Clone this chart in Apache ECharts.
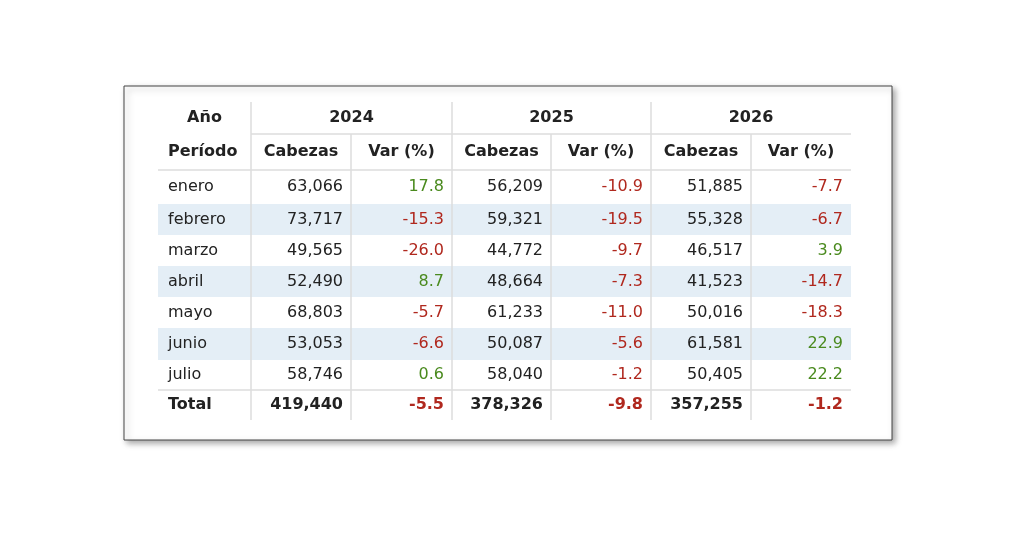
<!DOCTYPE html>
<html><head><meta charset="utf-8">
<script src="https://cdn.jsdelivr.net/npm/echarts@6/dist/echarts.min.js"></script>
<style>html,body{margin:0;background:#fff}#c{width:1024px;height:535px}</style>
</head><body><div id="c"></div>
<script>
var chart = echarts.init(document.getElementById('c'));

// bordes de columnas y filas de la tabla
var colEdges = [158, 251, 351, 452, 551, 651, 751, 851];
var rowEdges = [102, 134, 170, 204, 235, 266, 297, 328, 360, 390, 420];

var years = ['2024', '2025', '2026'];
var meses = ['enero', 'febrero', 'marzo', 'abril', 'mayo', 'junio', 'julio'];
var datos = {
  '2024': [[63066, 17.8], [73717, -15.3], [49565, -26.0], [52490, 8.7], [68803, -5.7], [53053, -6.6], [58746, 0.6]],
  '2025': [[56209, -10.9], [59321, -19.5], [44772, -9.7], [48664, -7.3], [61233, -11.0], [50087, -5.6], [58040, -1.2]],
  '2026': [[51885, -7.7], [55328, -6.7], [46517, 3.9], [41523, -14.7], [50016, -18.3], [61581, 22.9], [50405, 22.2]]
};
var totales = {'2024': [419440, -5.5], '2025': [378326, -9.8], '2026': [357255, -1.2]};

var fmt = function (v) { return v.toLocaleString('en-US'); };
var varColor = function (v) { return v >= 0 ? '#4a8a1e' : '#b0281e'; };

// celdas: [col inicio, col fin, fila, texto, alineacion, color, negrita]
var cells = [];
cells.push([0, 1, 0, 'Año', 'center', '#222', true]);
cells.push([0, 1, 1, 'Período', 'left', '#222', true]);
years.forEach(function (y, i) {
  cells.push([1 + i * 2, 3 + i * 2, 0, y, 'center', '#222', true]);
  cells.push([1 + i * 2, 2 + i * 2, 1, 'Cabezas', 'center', '#222', true]);
  cells.push([2 + i * 2, 3 + i * 2, 1, 'Var (%)', 'center', '#222', true]);
});
meses.forEach(function (m, r) {
  cells.push([0, 1, r + 2, m, 'left', '#222', false]);
  years.forEach(function (y, i) {
    var d = datos[y][r];
    cells.push([1 + i * 2, 2 + i * 2, r + 2, fmt(d[0]), 'right', '#222', false]);
    cells.push([2 + i * 2, 3 + i * 2, r + 2, d[1].toFixed(1), 'right', varColor(d[1]), false]);
  });
});
cells.push([0, 1, 9, 'Total', 'left', '#222', true]);
years.forEach(function (y, i) {
  var d = totales[y];
  cells.push([1 + i * 2, 2 + i * 2, 9, fmt(d[0]), 'right', '#222', true]);
  cells.push([2 + i * 2, 3 + i * 2, 9, d[1].toFixed(1), 'right', varColor(d[1]), true]);
});

// bandas de filas alternas
var bandas = [3, 5, 7].map(function (r) { return [0, 7, r]; });

// lineas: [x1,y1,x2,y2] en indices de borde
var lineas = [[1, 1, 7, 1], [0, 2, 7, 2], [0, 9, 7, 9]];
[1, 3, 5].forEach(function (c) { lineas.push([c, 0, c, 10]); });
[2, 4, 6].forEach(function (c) { lineas.push([c, 1, c, 10]); });

option = {
  animation: false,
  grid: {left: 158, right: 1024 - 851, top: 102, bottom: 535 - 420},
  xAxis: {type: 'value', min: 158, max: 851, show: false},
  yAxis: {type: 'value', min: 102, max: 420, inverse: true, show: false},
  graphic: [{
    type: 'rect', shape: {x: 124, y: 86, width: 768, height: 354}, z: -10,
    style: {fill: '#fff', stroke: '#444', lineWidth: 1, shadowBlur: 6, shadowOffsetX: 3, shadowOffsetY: 3, shadowColor: 'rgba(0,0,0,0.35)'}
  }],
  series: [{
    type: 'custom', z: 1,
    data: bandas,
    renderItem: function (p, api) {
      var a = api.coord([colEdges[api.value(0)], rowEdges[api.value(2)]]);
      var b = api.coord([colEdges[api.value(1)], rowEdges[api.value(2) + 1]]);
      return {type: 'rect', shape: {x: a[0], y: a[1], width: b[0] - a[0], height: b[1] - a[1]}, style: {fill: '#e4eef6'}};
    }
  }, {
    type: 'custom', z: 2,
    data: lineas,
    renderItem: function (p, api) {
      var a = api.coord([colEdges[api.value(0)], rowEdges[api.value(1)]]);
      var b = api.coord([colEdges[api.value(2)], rowEdges[api.value(3)]]);
      return {type: 'line', shape: {x1: a[0], y1: a[1], x2: b[0], y2: b[1]}, style: {stroke: '#dcdcdc', lineWidth: 1.5}};
    }
  }, {
    type: 'custom', z: 3,
    data: cells,
    renderItem: function (p, api) {
      var c = cells[p.dataIndex];
      var a = api.coord([colEdges[c[0]], rowEdges[c[2]]]);
      var b = api.coord([colEdges[c[1]], rowEdges[c[2] + 1]]);
      var x = c[4] === 'left' ? a[0] + 10 : c[4] === 'right' ? b[0] - 8 : (a[0] + b[0]) / 2;
      return {type: 'text', style: {
        x: x, y: (a[1] + b[1]) / 2, text: c[3], align: c[4], verticalAlign: 'middle',
        fill: c[5], font: (c[6] ? 'bold ' : '') + '16px "DejaVu Sans"'
      }};
    }
  }]
};
chart.setOption(option);
</script></body></html>
